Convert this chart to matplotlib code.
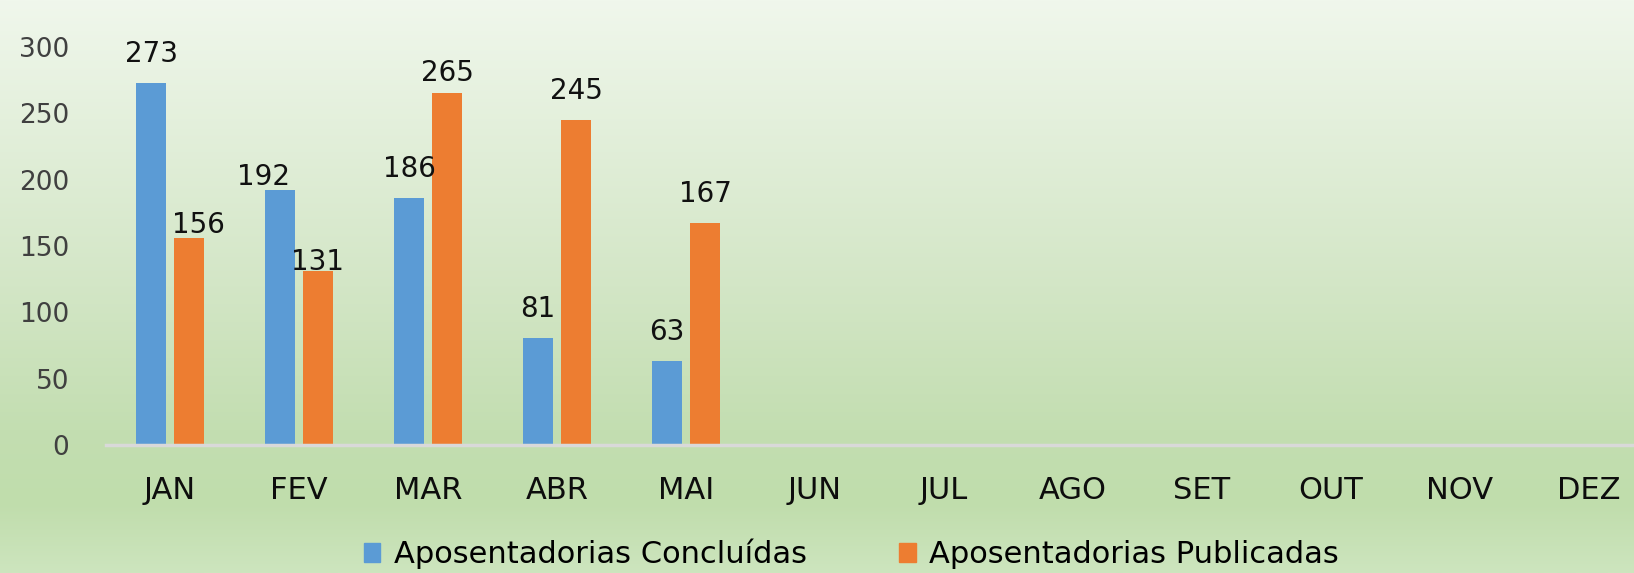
import numpy as np
import matplotlib
matplotlib.use("Agg")
import matplotlib.pyplot as plt
from matplotlib.colors import LinearSegmentedColormap
from matplotlib.patches import Patch

# data
meses = ["JAN", "FEV", "MAR", "ABR", "MAI", "JUN", "JUL", "AGO", "SET", "OUT", "NOV", "DEZ"]
concluidas = [273, 192, 186, 81, 63]
publicadas = [156, 131, 265, 245, 167]
serie_nomes = ["Aposentadorias Concluídas", "Aposentadorias Publicadas"]
yticks = [0, 50, 100, 150, 200, 250, 300]

azul = "#5b9bd5"
laranja = "#ed7d31"

W, H = 1634, 573
fig = plt.figure(figsize=(W / 100, H / 100), dpi=100)

# gradient background
bg = fig.add_axes([0, 0, 1, 1], zorder=0)
cmap = LinearSegmentedColormap.from_list("bg", [
    (0.0, (240/255, 247/255, 236/255)),
    (0.5, (211/255, 230/255, 198/255)),
    (0.75, (195/255, 222/255, 177/255)),
    (0.88, (192/255, 221/255, 172/255)),
    (1.0, (205/255, 229/255, 190/255)),
])
bg.imshow(np.linspace(0, 1, 256).reshape(-1, 1), aspect="auto", cmap=cmap,
          extent=[0, 1, 0, 1], origin="upper")
bg.axis("off")

ax = fig.add_axes([105.5 / W, (H - 445) / H, 12 * 129 / W, 398 / H], zorder=1)
ax.patch.set_alpha(0)

x = np.arange(len(meses))
off, bw = 0.147, 0.233
xc = x[:len(concluidas)]
xp = x[:len(publicadas)]
b1 = ax.bar(xc - off, concluidas, bw, color=azul, zorder=2)
b2 = ax.bar(xp + off, publicadas, bw, color=laranja, zorder=2)

ax.set_xlim(-0.5, len(meses) - 0.5)
ax.set_ylim(0, 300)
ax.set_yticks(yticks)
ax.set_xticks(x)
ax.set_xticklabels(meses, fontsize=22, family="DejaVu Sans", color="#0d0d0d")
ax.tick_params(axis="x", length=0, pad=22)
ax.tick_params(axis="y", length=0, pad=26, labelsize=19, labelcolor="#404040")
for s in ["top", "right", "left"]:
    ax.spines[s].set_visible(False)
ax.spines["bottom"].set_color("#d9d9d9")
ax.spines["bottom"].set_linewidth(2.5)

# data labels (pixel nudges where Excel placed them differently)
ajuste = {(0, 1): (-17, 13), (1, 0): (9, 13), (1, 1): (0, 9), (1, 2): (0, 20)}
for si, bars in enumerate([b1, b2]):
    for i, r in enumerate(bars):
        dx, dy = ajuste.get((si, i), (0, 29))
        ax.annotate(str(int(r.get_height())),
                    (r.get_x() + r.get_width() / 2, r.get_height()),
                    xytext=(dx, dy), textcoords="offset pixels",
                    ha="center", va="center", fontsize=20, color="#111111")

handles = [Patch(color=azul), Patch(color=laranja)]
fig.legend(handles, serie_nomes, loc="center", bbox_to_anchor=(0.521, 19 / H),
           ncol=2, frameon=False, handlelength=0.55, handleheight=0.55,
           handletextpad=0.45, columnspacing=3.0,
           prop={"family": "DejaVu Sans", "size": 22})

fig.savefig("out.png", dpi=100)
